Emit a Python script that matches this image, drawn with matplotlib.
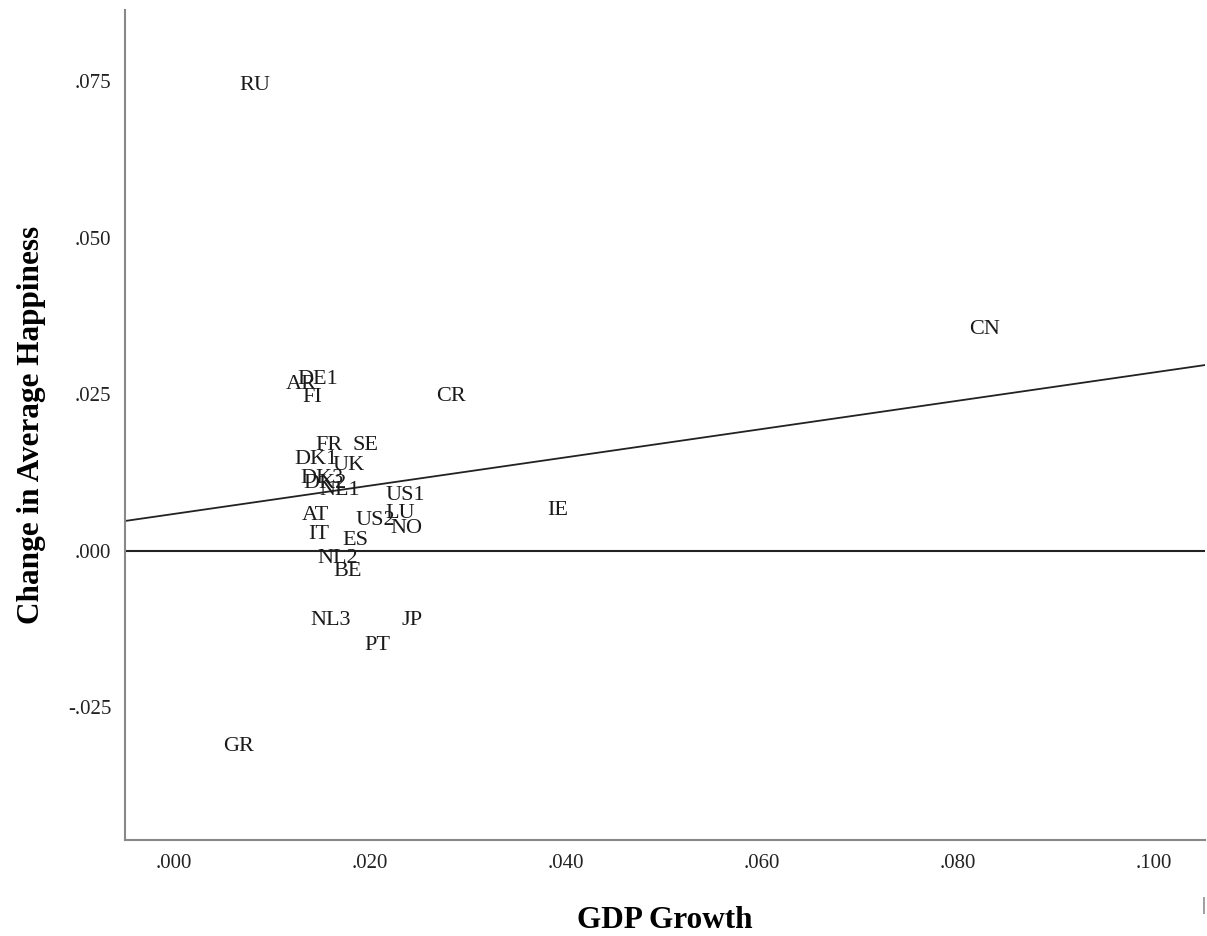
import matplotlib
matplotlib.use('Agg')
import matplotlib.pyplot as plt
import numpy as np

codes = ['RU', 'CN', 'DE1', 'AR', 'FI', 'CR', 'FR', 'SE', 'DK1', 'UK',
         'DK3', 'DK2', 'NL1', 'US1', 'IE', 'AT', 'LU', 'US2', 'NO', 'IT',
         'ES', 'NL2', 'BE', 'NL3', 'JP', 'PT', 'GR']
gdp_growth = [0.0082, 0.0827, 0.0147, 0.0130, 0.0141, 0.0283, 0.0158, 0.0195, 0.0145, 0.0178,
              0.0151, 0.0154, 0.0169, 0.0236, 0.0392, 0.0144, 0.0231, 0.0205, 0.0237, 0.0148,
              0.0185, 0.0167, 0.0177, 0.0160, 0.0243, 0.0208, 0.0066]
happiness_change = [0.0748, 0.0358, 0.0278, 0.0270, 0.0249, 0.0251, 0.0173, 0.0173, 0.0150, 0.0141,
                    0.0120, 0.0111, 0.0101, 0.0093, 0.0069, 0.0061, 0.0064, 0.0053, 0.0040, 0.0030,
                    0.0021, -0.0008, -0.0029, -0.0107, -0.0107, -0.0147, -0.0308]

xticks = [0.0, 0.02, 0.04, 0.06, 0.08, 0.10]
xtick_labels = ['.000', '.020', '.040', '.060', '.080', '.100']
yticks = [-0.025, 0.0, 0.025, 0.05, 0.075]
ytick_labels = ['-.025', '.000', '.025', '.050', '.075']

plt.rcParams['font.family'] = ['Liberation Serif', 'DejaVu Serif']

fig = plt.figure(figsize=(12.07, 9.36), dpi=100)
ax = fig.add_axes([0.1036, 0.1026, 0.8947, 0.8867])

xlim = (-0.005, 0.1052)
ylim = (-0.0462, 0.0864)

for c, x, y in zip(codes, gdp_growth, happiness_change):
    ax.text(x, y, c, ha='center', va='center_baseline', fontsize=16, color='#1a1a1a')

# linear fit line
slope, intercept = np.polyfit(gdp_growth, happiness_change, 1)
xs = np.array(xlim)
ax.plot(xs, intercept + slope * xs, color='#222222', lw=1.3)
ax.axhline(0, color='#222222', lw=1.5)

ax.set_xlim(xlim)
ax.set_ylim(ylim)
ax.set_xticks(xticks)
ax.set_xticklabels(xtick_labels)
ax.set_yticks(yticks)
ax.set_yticklabels(ytick_labels)
ax.tick_params(length=0, labelsize=15, pad=10, colors='#222222')

for s in ['top', 'right']:
    ax.spines[s].set_visible(False)
for s in ['left', 'bottom']:
    ax.spines[s].set_color('#888888')
    ax.spines[s].set_linewidth(1.5)

ax.set_xlabel('GDP Growth', fontsize=22.5, fontweight='bold', labelpad=24)
ax.set_ylabel('Change in Average Happiness', fontsize=22.5, fontweight='bold', labelpad=16)

fig.text(0.9985, 0.033, '|', fontsize=14, color='#444444', ha='right', va='center')

fig.savefig('out.png', dpi=100)
